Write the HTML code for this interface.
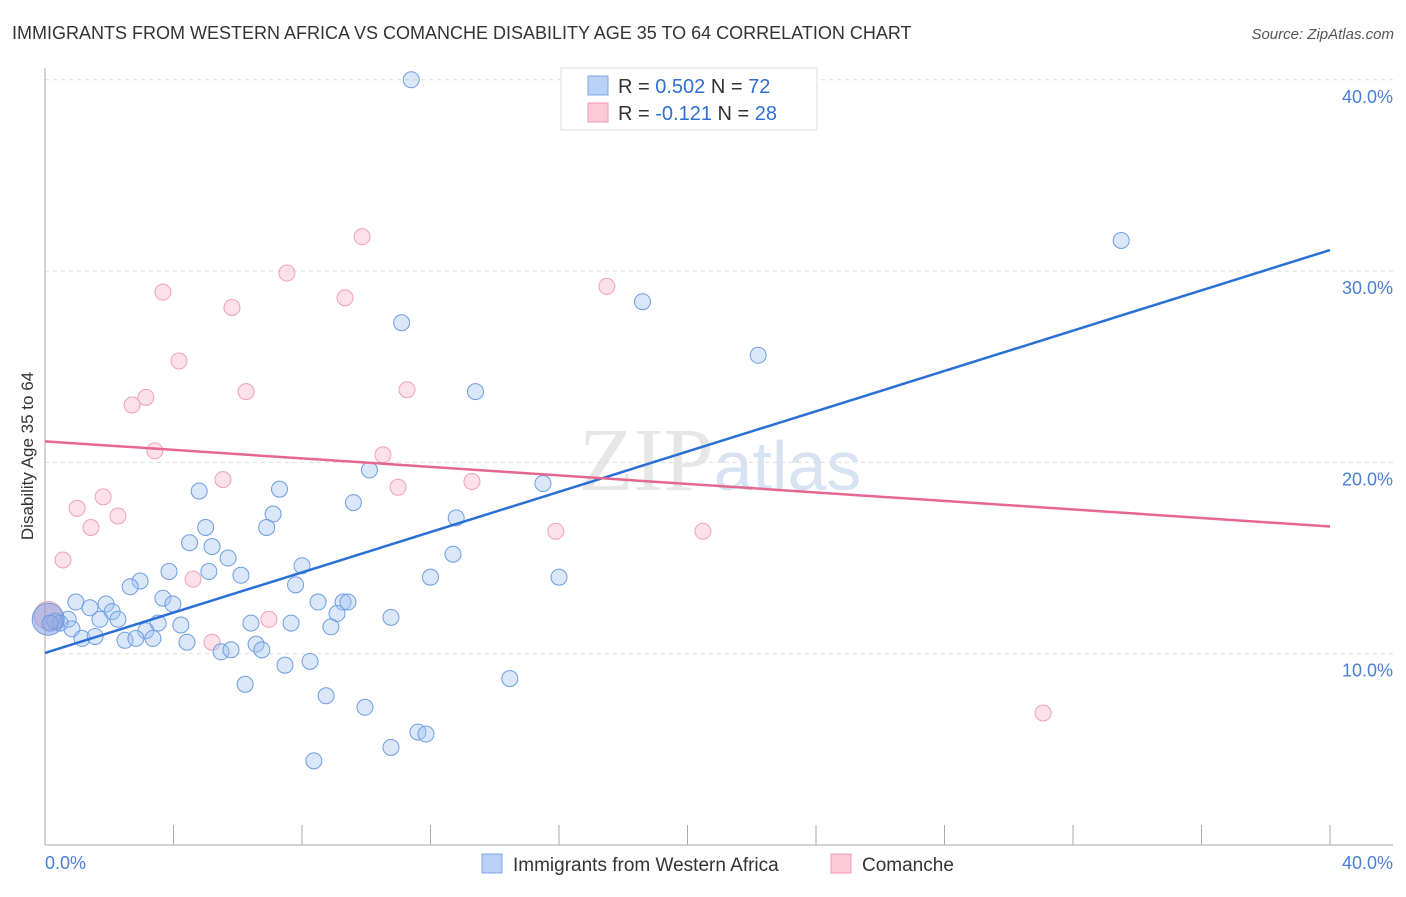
<!DOCTYPE html>
<html><head><meta charset="utf-8"><style>
body{margin:0;background:#fff;font-family:"Liberation Sans",sans-serif}
</style></head><body>
<svg id="chart" width="1406" height="892" xmlns="http://www.w3.org/2000/svg" font-family="Liberation Sans, sans-serif">
<text x="12" y="39" font-size="18" fill="#333">IMMIGRANTS FROM WESTERN AFRICA VS COMANCHE DISABILITY AGE 35 TO 64 CORRELATION CHART</text>
<text x="1394" y="39" font-size="15" fill="#555" text-anchor="end" font-style="italic">Source: ZipAtlas.com</text>
<text x="720" y="490" font-size="90" fill="#e6e6e6" text-anchor="middle" font-family="Liberation Serif, serif">ZIP<tspan fill="#d7e3f3" font-family="Liberation Sans, sans-serif" font-size="70">atlas</tspan></text>
<g id="grid"></g><g id="axes"></g><g id="pts"></g><g id="lines"></g>
<text transform="translate(33,456) rotate(-90)" font-size="17" fill="#333" text-anchor="middle">Disability Age 35 to 64</text>
<text x="45" y="869" font-size="18" fill="#4a7fd6">0.0%</text>
<text x="1393" y="869" font-size="18" fill="#4a7fd6" text-anchor="end">40.0%</text>
<g>
<rect x="561" y="68" width="256" height="62" fill="#fff" stroke="#ddd"/>
<rect x="588" y="76" width="20" height="19" fill="#b9d1f4" stroke="#7ca6e6"/>
<rect x="588" y="103" width="20" height="19" fill="#fbc9d8" stroke="#f09ab4"/>
<text x="618" y="93" font-size="20" fill="#333">R = <tspan fill="#2f6fd6">0.502</tspan>   N = <tspan fill="#2f6fd6">72</tspan></text>
<text x="618" y="120" font-size="20" fill="#333">R = <tspan fill="#2f6fd6">-0.121</tspan>   N = <tspan fill="#2f6fd6">28</tspan></text>
</g>
<g>
<rect x="482" y="854" width="20" height="19" fill="#b9d1f4" stroke="#7ca6e6"/>
<text x="513" y="871" font-size="19" fill="#333">Immigrants from Western Africa</text>
<rect x="831" y="854" width="20" height="19" fill="#fbc9d8" stroke="#f09ab4"/>
<text x="862" y="871" font-size="19" fill="#333">Comanche</text>
</g>
</svg>
<script>
const yTicks=[10,20,30,40];
const blueX=[11.4,33.5,18.6,11.1,22.2,13.4,15.5,10.1,4.8,7.3,9.6,12.8,7.1,6.9,5.0,4.5,5.2,12.7,5.7,8.0,2.96,2.65,3.86,5.1,6.1,12.0,16.0,7.8,3.67,3.98,0.96,1.4,1.9,2.09,8.5,9.28,9.43,9.09,10.77,0.72,0.47,0.31,0.16,1.71,2.27,3.52,4.23,7.66,8.9,3.14,0.84,1.15,1.56,2.49,2.83,3.36,4.42,6.41,6.57,5.48,5.79,6.75,7.47,8.25,6.23,14.47,8.75,9.96,11.61,11.86,10.77,8.37,0.1];
const blueY=[40.0,31.6,28.4,27.3,25.6,23.7,18.9,19.6,18.5,18.6,17.9,17.1,17.3,16.6,16.6,15.8,15.6,15.2,15.0,14.6,13.8,13.5,14.3,14.3,14.1,14.0,14.0,13.6,12.9,12.6,12.7,12.4,12.6,12.2,12.7,12.7,12.7,12.1,11.9,11.8,11.6,11.7,11.6,11.8,11.8,11.6,11.5,11.6,11.4,11.2,11.3,10.8,10.9,10.7,10.8,10.8,10.6,11.6,10.5,10.1,10.2,10.2,9.4,9.6,8.4,8.7,7.8,7.2,5.9,5.8,5.1,4.4,11.8];
const pinkX=[0.1,0.56,1.0,1.43,1.81,2.27,2.71,3.14,3.42,3.67,4.17,4.61,5.2,5.54,5.82,6.26,6.97,7.53,9.34,9.87,10.52,10.99,11.27,13.29,15.9,17.49,20.48,31.07];
const pinkY=[12.0,14.9,17.6,16.6,18.2,17.2,23.0,23.4,20.6,28.9,25.3,13.9,10.6,19.1,28.1,23.7,11.8,29.9,28.6,31.8,20.4,18.7,23.8,19.0,16.4,29.2,16.4,6.9];
const blueLine=[10.04,31.1];
const pinkLine=[21.1,16.65];
const X0=45,X1=1330,Y0=845,PY=19.13;
const sx=v=>X0+(X1-X0)*v/40, sy=v=>Y0-PY*v;
const NS='http://www.w3.org/2000/svg';
function mk(t,p,a){const e=document.createElementNS(NS,t);for(const k in a)e.setAttribute(k,a[k]);p.appendChild(e);return e;}
const grid=document.getElementById('grid'),axes=document.getElementById('axes'),pts=document.getElementById('pts'),lines=document.getElementById('lines');
yTicks.forEach(t=>{
 const l=mk('line',grid,{x1:45,x2:1393,y1:sy(t),y2:sy(t),stroke:'#ddd','stroke-dasharray':'4,4'});
 
 
 const tx=mk('text',grid,{x:1393,y:sy(t)-51+58,'font-size':18,fill:'#4a7fd6','text-anchor':'end'});
 tx.setAttribute('y',sy(t)+23);
 tx.textContent=t.toFixed(1)+'%';
 
 
});
let a=mk('line',axes,{x1:45,x2:45,y1:68,y2:845,stroke:'#aaa'});


a=mk('line',axes,{x1:45,x2:1393,y1:845,y2:845,stroke:'#aaa'});


for(let i=0;i<=10;i++){const t=mk('line',axes,{x1:sx(i*4),x2:sx(i*4),y1:825,y2:845,stroke:'#aaa'});
 
 }
pinkX.forEach((x,i)=>{const c=mk('circle',pts,{cx:sx(x),cy:sy(pinkY[i]),r:i==0?14:8,fill:'rgba(246,170,195,0.35)',stroke:'#eea0ba','stroke-width':1});
 
 });
blueX.forEach((x,i)=>{const c=mk('circle',pts,{cx:sx(x),cy:sy(blueY[i]),r:i==blueX.length-1?16:8,fill:i==blueX.length-1?'rgba(120,150,220,0.5)':'rgba(160,195,240,0.4)',stroke:'#6f9de0','stroke-width':1});
 
 });
let ln=mk('line',lines,{x1:sx(0),y1:sy(blueLine[0]),x2:sx(40),y2:sy(blueLine[1]),stroke:'#2a6fd6','stroke-width':2.5});


ln=mk('line',lines,{x1:sx(0),y1:sy(pinkLine[0]),x2:sx(40),y2:sy(pinkLine[1]),stroke:'#e5668f','stroke-width':2.5});


</script>
</body></html>
